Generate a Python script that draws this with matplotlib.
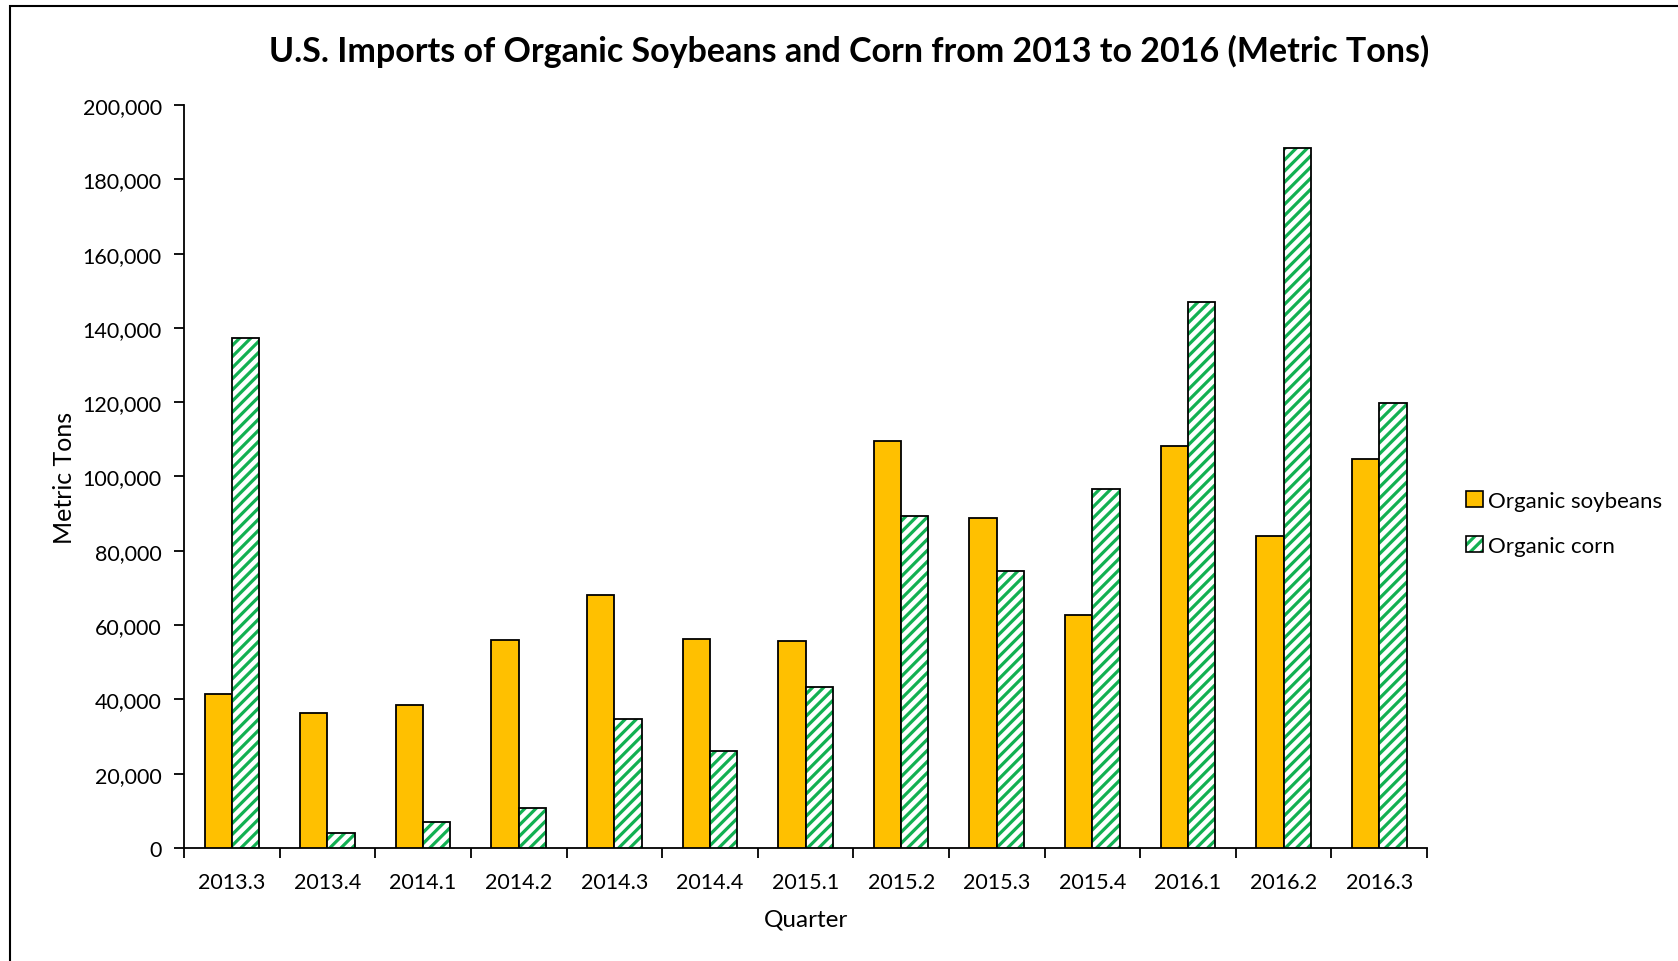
import matplotlib
matplotlib.use("Agg")
import matplotlib.pyplot as plt
import numpy as np
from matplotlib.patches import Rectangle, Patch
from matplotlib.ticker import FuncFormatter, MultipleLocator

quarters = ["2013.3", "2013.4", "2014.1", "2014.2", "2014.3", "2014.4", "2015.1",
            "2015.2", "2015.3", "2015.4", "2016.1", "2016.2", "2016.3"]
soybeans = [41500, 36300, 38600, 55900, 68000, 56200, 55600,
            109500, 88800, 62800, 108100, 84100, 104600]
corn = [137200, 4000, 6900, 10700, 34600, 26200, 43200,
        89300, 74600, 96500, 147000, 188500, 119900]

plt.rcParams['font.family'] = ['Lato', 'DejaVu Sans']
plt.rcParams['hatch.linewidth'] = 2.3

GREEN = "#12B052"
GOLD = "#FFC000"

fig = plt.figure(figsize=(16.78, 9.62), dpi=100)
ax = fig.add_axes([0.1097, 0.1175, 0.8504 - 0.1097, 0.8898 - 0.1175])

x = np.arange(len(quarters))
w = 0.286
ax.bar(x - w / 2, soybeans, width=w, color=GOLD, edgecolor="black", linewidth=1.3, zorder=3)
# hatch layer for corn
ax.bar(x + w / 2, corn, width=w, facecolor="white", edgecolor=GREEN, hatch="///",
       linewidth=0, zorder=3)
ax.bar(x + w / 2, corn, width=w, facecolor="none", edgecolor="black", linewidth=1.3, zorder=4)

ax.set_xlim(-0.5, len(quarters) - 0.5)
ax.set_ylim(0, 200000)
ax.yaxis.set_major_locator(MultipleLocator(20000))
ax.yaxis.set_major_formatter(FuncFormatter(lambda v, p: f"{int(v):,}"))

ax.set_xticks(x)
ax.set_xticklabels(quarters, fontsize=15.5)
ax.set_xticks(np.arange(-0.5, len(quarters)), minor=True)
ax.tick_params(axis='x', which='major', length=0, pad=17)
ax.tick_params(axis='x', which='minor', length=7, width=1.3, direction='out')
ax.tick_params(axis='y', labelsize=15.5, length=7, width=1.3, direction='out', pad=9)

for s in ["top", "right"]:
    ax.spines[s].set_visible(False)
for s in ["left", "bottom"]:
    ax.spines[s].set_linewidth(1.3)

ax.set_xlabel("Quarter", fontsize=17.5, labelpad=12)
ax.set_ylabel("Metric Tons", fontsize=18, labelpad=5)
fig.text(793 / 1568, 1 - 48 / 899,
         "U.S. Imports of Organic Soybeans and Corn from 2013 to 2016 (Metric Tons)",
         fontsize=24.5, fontweight="bold", ha="center", va="center")

h_soy = Patch(facecolor=GOLD, edgecolor="black", linewidth=1.2)
h_corn_hatch = Patch(facecolor="white", edgecolor=GREEN, hatch="///", linewidth=0)
h_corn_edge = Patch(facecolor="none", edgecolor="black", linewidth=1.2)
leg = fig.legend(handles=[h_soy, (h_corn_hatch, h_corn_edge)],
                 labels=["Organic soybeans", "Organic corn"],
                 loc="center left", bbox_to_anchor=(0.862, 0.455),
                 frameon=False, fontsize=16, handlelength=0.75, handleheight=0.75,
                 handletextpad=0.22, labelspacing=1.1)

# figure border (clipped on right and bottom)
fig.patches.append(Rectangle((10 / 1678, -0.05), 1.2, 1 - 7 / 962 + 0.05,
                             transform=fig.transFigure, fill=False,
                             edgecolor="black", linewidth=1.5))

fig.savefig("out.png", dpi=100)
